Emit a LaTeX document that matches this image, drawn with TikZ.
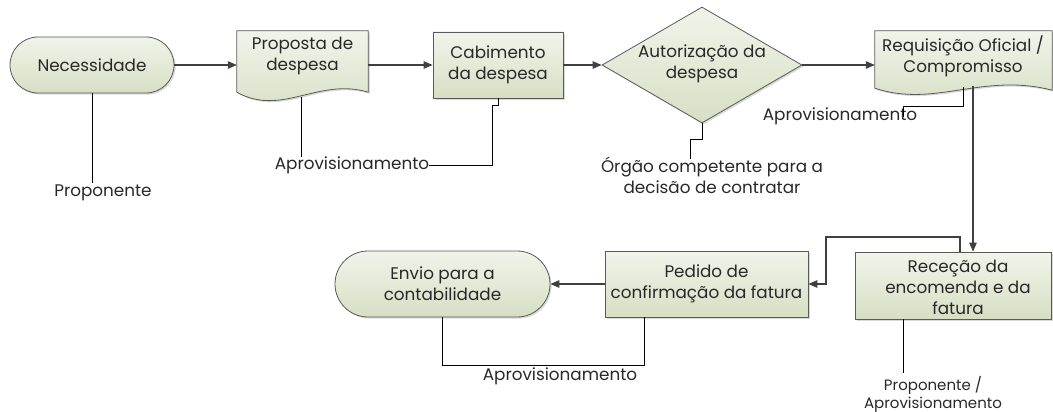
\documentclass[tikz,border=0pt]{standalone}
\usepackage{fontspec}
\setmainfont{Poppins}
\usetikzlibrary{arrows.meta,shadows,calc,shapes.geometric}
\definecolor{topg}{RGB}{241,244,234}
\definecolor{botg}{RGB}{214,223,196}
\definecolor{edge}{RGB}{90,90,90}
\definecolor{lin}{RGB}{64,64,64}
\definecolor{txt}{RGB}{40,40,40}
\tikzset{
  shp/.style={draw=edge, line width=0.8pt, top color=topg, bottom color=botg,
    drop shadow={shadow xshift=1.6pt, shadow yshift=-1.6pt, opacity=0.3}},
  lbl/.style={font=\fontsize{16.8}{21}\selectfont, text=txt, align=center, inner sep=0pt},
  smalllbl/.style={font=\fontsize{15}{18}\selectfont, text=txt, align=center, inner sep=0pt},
  conn/.style={draw=lin, line width=1.1pt},
  arr/.style={conn, -{Triangle[length=9pt,width=7.5pt]}},
  thin/.style={draw=black, line width=0.8pt},
}
\begin{document}
\begin{tikzpicture}[x=1pt,y=-1pt]
\useasboundingbox (0,0) rectangle (1053,412);
% Necessidade
\node[shp, rounded corners=28pt, minimum width=164pt, minimum height=56pt, lbl] (nec) at (92,65) {Necessidade};
% Proposta de despesa (document)
\node[minimum width=131pt, minimum height=61pt, inner sep=0pt] (prop) at (302.5,61.5) {};
\path[shp] (prop.south west) -- (prop.north west) -- (prop.north east) -- (prop.south east)
  .. controls ($(prop.south east)+(-50,-15)$) and ($(prop.south west)+(45,25)$) .. (prop.south west) -- cycle;
\node[lbl] (propt) at (302.5,56) {Proposta de\\despesa};
% Cabimento
\node[shp, minimum width=130pt, minimum height=66pt, lbl] (cab) at (498,65) {Cabimento\\da despesa};
% Autorizacao diamond
\node[shp, diamond, minimum width=200pt, minimum height=116pt, inner sep=0pt] (aut) at (702,65) {};
\node[lbl] (autt) at (702,64) {Autorização da\\despesa};
% Requisicao (document)
\node[minimum width=177pt, minimum height=57pt, inner sep=0pt] (req) at (963.5,59.5) {};
\path[shp] (req.south west) -- (req.north west) -- (req.north east) -- ($(req.south east)+(0,2)$)
  .. controls ($(req.south east)+(-70,-16)$) and ($(req.south west)+(60,20)$) .. (req.south west) -- cycle;
\node[lbl] (reqt) at (963,56) {Requisição Oficial /\\Compromisso};
% Rececao
\node[shp, minimum width=196pt, minimum height=67pt, inner sep=0pt] (rec) at (953,285.5) {};
\node[lbl] (rect) at (958,287) {Receção da\\encomenda e da\\fatura};
% Pedido
\node[shp, minimum width=203pt, minimum height=66pt, lbl] (ped) at (706.5,284) {Pedido de\\confirmação da fatura};
% Envio
\node[shp, rounded corners=33pt, minimum width=215pt, minimum height=66pt, lbl] (env) at (442.5,284) {Envio para a\\contabilidade};

% labels
\node[lbl] (pro1) at (103,193) {Proponente};
\node[lbl] (apv1) at (352,165) {Aprovisionamento};
\node[lbl] (org) at (712,175) {Órgão competente para a\\decisão de contratar};
\node[lbl] (apv2) at (840,116) {Aprovisionamento};
\node[lbl] (apv3) at (560,376) {Aprovisionamento};
\node[smalllbl] (pa) at (933,394) {Proponente /\\Aprovisionamento};

% main arrows
\draw[arr] (nec.east) -- (prop.west |- nec.east);
\draw[arr] (prop.east |- cab.west) -- (cab.west);
\draw[arr] (cab.east) -- (aut.west);
\draw[arr] (aut.east) -- (req.west |- aut.east);
\coordinate (reqw) at (973,86);
\draw[arr] (reqw) -- (reqw |- rec.north);
\coordinate (reca) at (960,252);
\draw[arr] (reca) -- ++(0,-15) -| (826,284) -- (ped.east);
\draw[arr] (ped.west) -- (env.east);

% annotation lines
\draw[thin] (nec.south) -- (92,183);
\coordinate (propb) at (301,97.5);
\draw[thin] (propb) -- (301,157);
\draw[thin] (cab.south) -- ++(0,7) -- ++(-6,0) |- (apv1.east);
\draw[thin] (aut.south) -- ++(0,16) -- ++(-12,0) -- ++(0,20);
\coordinate (reqb) at (963,87);
\draw[thin] (reqb) -- (963,106) -- (903,106) -- (903,117);
\draw[thin] (903,319) -- (903,373);
\draw[thin] (env.south) -- (442.5,365) -| ($(ped.south)+(-62,0)$);
\end{tikzpicture}
\end{document}
